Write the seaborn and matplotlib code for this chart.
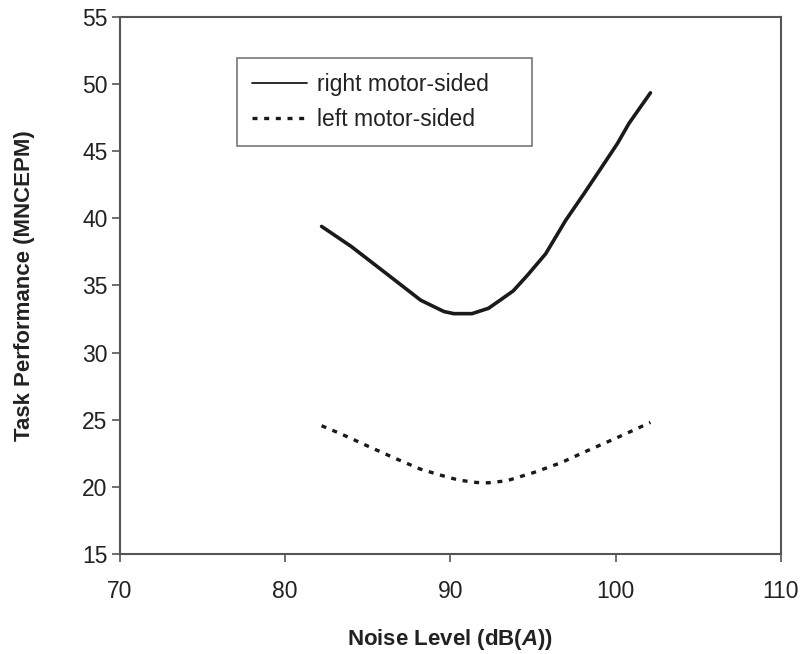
import pandas as pd
import matplotlib.pyplot as plt
import seaborn as sns

# datos
right_x = [82.2, 84.0, 86.0, 88.2, 89.6, 90.2, 91.3, 92.3, 93.0, 93.8, 94.65, 95.76,
           96.97, 98.08, 99.09, 100.1, 100.8, 101.5, 102.1]
right_y = [39.4, 37.9, 36.0, 33.9, 33.06, 32.9, 32.9, 33.3, 33.9, 34.6, 35.75, 37.36,
           39.85, 41.84, 43.7, 45.57, 47.07, 48.3, 49.35]

left_x = [82.2, 83.4, 84.95, 86.67, 88.18, 89.4, 90.5, 91.6, 92.3, 93.4, 95.05, 96.7,
          98.3, 99.9, 101.1, 102.1]
left_y = [24.55, 23.93, 23.06, 22.11, 21.32, 20.87, 20.5, 20.32, 20.3, 20.45, 21.07,
          21.8, 22.7, 23.56, 24.23, 24.8]

x_ticks = [70, 80, 90, 100, 110]
y_ticks = [15, 20, 25, 30, 35, 40, 45, 50, 55]

sns.set_style("ticks")
plt.rcParams["font.family"] = ["Liberation Sans", "DejaVu Sans"]
plt.rcParams["mathtext.fontset"] = "custom"
plt.rcParams["mathtext.it"] = "Liberation Sans:italic:bold"
plt.rcParams["mathtext.rm"] = "Liberation Sans:bold"

df_r = pd.DataFrame({"x": right_x, "y": right_y})
df_l = pd.DataFrame({"x": left_x, "y": left_y})

fig = plt.figure(figsize=(8.01, 6.54), dpi=100)
ax = fig.add_axes([0.1498, 0.153, 0.8252, 0.821])

sns.lineplot(data=df_r, x="x", y="y", ax=ax, color="#1a1a1a", lw=2.6,
             label="right motor-sided", sort=False)
sns.lineplot(data=df_l, x="x", y="y", ax=ax, color="#1a1a1a", lw=2.4,
             dashes=(1.5, 2.0), label="left motor-sided", sort=False)

ax.set_xlim(70, 110)
ax.set_ylim(15, 55)
ax.set_xticks(x_ticks)
ax.set_yticks(y_ticks)
ax.tick_params(labelsize=16.5, length=6, width=1.2, color="#555555", pad=3,
               labelcolor="#222222")
ax.tick_params(axis="x", pad=13)

for s in ax.spines.values():
    s.set_color("#555555")
    s.set_linewidth(1.5)

ax.set_xlabel(r"Noise Level (dB($\mathit{A}$))", fontsize=16, fontweight="bold",
              labelpad=17, color="#222222")
ax.set_ylabel("Task Performance (MNCEPM)", fontsize=16, fontweight="bold",
              labelpad=34, color="#222222")

leg = ax.legend(loc="upper left", bbox_to_anchor=(0.1765, 0.766, 0.4475, 0.158),
                mode="expand", fontsize=16.5, frameon=True, fancybox=False,
                borderpad=0.65, handlelength=2.4, handletextpad=0.45,
                labelspacing=0.55, borderaxespad=0)
leg.get_frame().set_edgecolor("#555555")
leg.get_frame().set_linewidth(1.2)
for t in leg.get_texts():
    t.set_color("#222222")
leg.get_lines()[0].set_linewidth(1.3)
leg.get_lines()[1].set_linewidth(2.4)

fig.savefig("out.png", dpi=100)
